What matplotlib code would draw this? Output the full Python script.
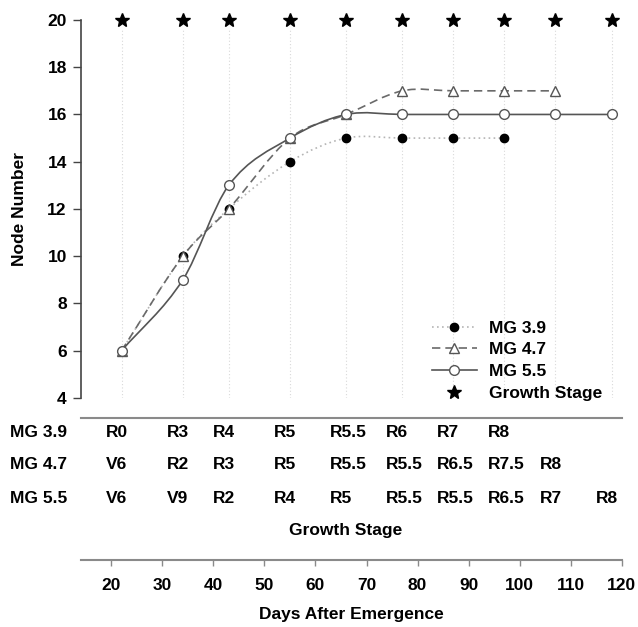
import numpy as np
import matplotlib.pyplot as plt
from matplotlib.path import Path
from matplotlib.patches import PathPatch
from matplotlib.lines import Line2D
from matplotlib.transforms import blended_transform_factory

plt.rcParams['font.family'] = ['Liberation Sans', 'DejaVu Sans']
plt.rcParams['font.weight'] = 'bold'
plt.rcParams['font.size'] = 12.5

# sampling days (days after emergence) and growth-stage markers
days = [22, 34, 43, 55, 66, 77, 87, 97, 107, 118]
star_level = [20, 20, 20, 20, 20, 20, 20, 20, 20, 20]

# node numbers per maturity group
nodes_39 = [6, 10, 12, 14, 15, 15, 15, 15]
nodes_47 = [6, 10, 12, 15, 16, 17, 17, 17, 17]
nodes_55 = [6, 9, 13, 15, 16, 16, 16, 16, 16, 16]

# growth stage table
stages_39 = ['R0', 'R3', 'R4', 'R5', 'R5.5', 'R6', 'R7', 'R8']
stages_47 = ['V6', 'R2', 'R3', 'R5', 'R5.5', 'R5.5', 'R6.5', 'R7.5', 'R8']
stages_55 = ['V6', 'V9', 'R2', 'R4', 'R5', 'R5.5', 'R5.5', 'R6.5', 'R7', 'R8']
row_names = ['MG 3.9', 'MG 4.7', 'MG 5.5']

day_ticks = list(range(20, 121, 10))
node_ticks = list(range(4, 21, 2))


def smooth_path(xs, ys):
    # cubic hermite curve through the points, as bezier segments
    xs = np.asarray(xs, float)
    ys = np.asarray(ys, float)
    n = len(xs)
    m = np.empty(n)
    m[0] = (ys[1] - ys[0]) / (xs[1] - xs[0])
    m[-1] = (ys[-1] - ys[-2]) / (xs[-1] - xs[-2])
    m[1:-1] = (ys[2:] - ys[:-2]) / (xs[2:] - xs[:-2])
    verts = [(xs[0], ys[0])]
    codes = [Path.MOVETO]
    for i in range(n - 1):
        h = (xs[i + 1] - xs[i]) / 3
        verts += [(xs[i] + h, ys[i] + m[i] * h),
                  (xs[i + 1] - h, ys[i + 1] - m[i + 1] * h),
                  (xs[i + 1], ys[i + 1])]
        codes += [Path.CURVE4] * 3
    return Path(verts, codes)


fig = plt.figure(figsize=(6.38, 6.27), dpi=100)
ax = fig.add_axes([0.1265, 0.3652, 0.848, 0.603])

ax.vlines(days, 4, 19.6, colors='#d9d9d9', linestyles=(0, (1, 2)), lw=0.8, zorder=1)

series = [
    (nodes_39, 'MG 3.9', '#b5b5b5', (0, (1, 2)), 'o', 'black', 'black', 6),
    (nodes_47, 'MG 4.7', '#6a6a6a', (0, (5, 3)), '^', 'white', '#555555', 7),
    (nodes_55, 'MG 5.5', '#555555', '-', 'o', 'white', '#555555', 7),
]
handles = []
for k, (vals, name, lc, ls, mk, fc, ec, ms) in enumerate(series):
    x = days[:len(vals)]
    ax.add_patch(PathPatch(smooth_path(x, vals), fill=False, edgecolor=lc,
                           linestyle=ls, lw=1.2, zorder=2 + 2 * k))
    ax.plot(x, vals, ls='none', marker=mk, ms=ms, mfc=fc, mec=ec, mew=1.0,
            zorder=3 + 2 * k)
    handles.append(Line2D([], [], color=lc, ls=ls, lw=1.2, marker=mk, ms=ms,
                          mfc=fc, mec=ec, mew=1.0, label=name))

ax.plot(days, star_level, ls='none', marker='*', ms=10, color='black',
        clip_on=False, zorder=10)
handles.append(Line2D([], [], ls='none', marker='*', ms=10, color='black',
                      label='Growth Stage'))

ax.set_xlim(14, 120)
ax.set_ylim(4, 20)
ax.set_yticks(node_ticks)
ax.set_xticks([])
for s in ['top', 'right', 'bottom']:
    ax.spines[s].set_visible(False)
ax.spines['left'].set_color('#444444')
ax.spines['left'].set_linewidth(1.2)
ax.tick_params(axis='y', direction='out', length=6, width=1.0, color='#444444', pad=4)
ax.set_ylabel('Node Number', fontweight='bold')
ax.yaxis.set_label_coords(-0.099, 0.5)

ax.legend(handles=handles, loc='upper left', bbox_to_anchor=(0.649, 0.205),
          frameon=False, borderpad=0, borderaxespad=0, handlelength=2.6,
          handletextpad=0.7, labelspacing=0.38)

# growth stage table and days axis
tab = fig.add_axes([0.1265, 0.1069, 0.848, 0.227])
tab.set_xlim(14, 120)
tab.set_ylim(0, 1)
tab.set_yticks([])
tab.set_xticks(day_ticks)
for s in ['left', 'right']:
    tab.spines[s].set_visible(False)
for s in ['top', 'bottom']:
    tab.spines[s].set_color('#8a8a8a')
    tab.spines[s].set_linewidth(1.5)
tab.tick_params(axis='x', direction='out', length=4, width=1.0, color='#8a8a8a', pad=9)
tab.set_xlabel('Days After Emergence', fontweight='bold', labelpad=10)

row_y = [0.8925, 0.668, 0.429]
for yy, name, stages in zip(row_y, row_names, [stages_39, stages_47, stages_55]):
    tab.text(-0.1307, yy, name, transform=tab.transAxes, ha='left', va='center')
    for d, st in zip(days, stages):
        tab.annotate(st, xy=(d, yy), xycoords=blended_transform_factory(tab.transData, tab.transAxes),
                     xytext=(-16, 0), textcoords='offset pixels', ha='left', va='center')
tab.text(0.49, 0.21, 'Growth Stage', transform=tab.transAxes, ha='center', va='center')

fig.savefig('out.png', dpi=100)
